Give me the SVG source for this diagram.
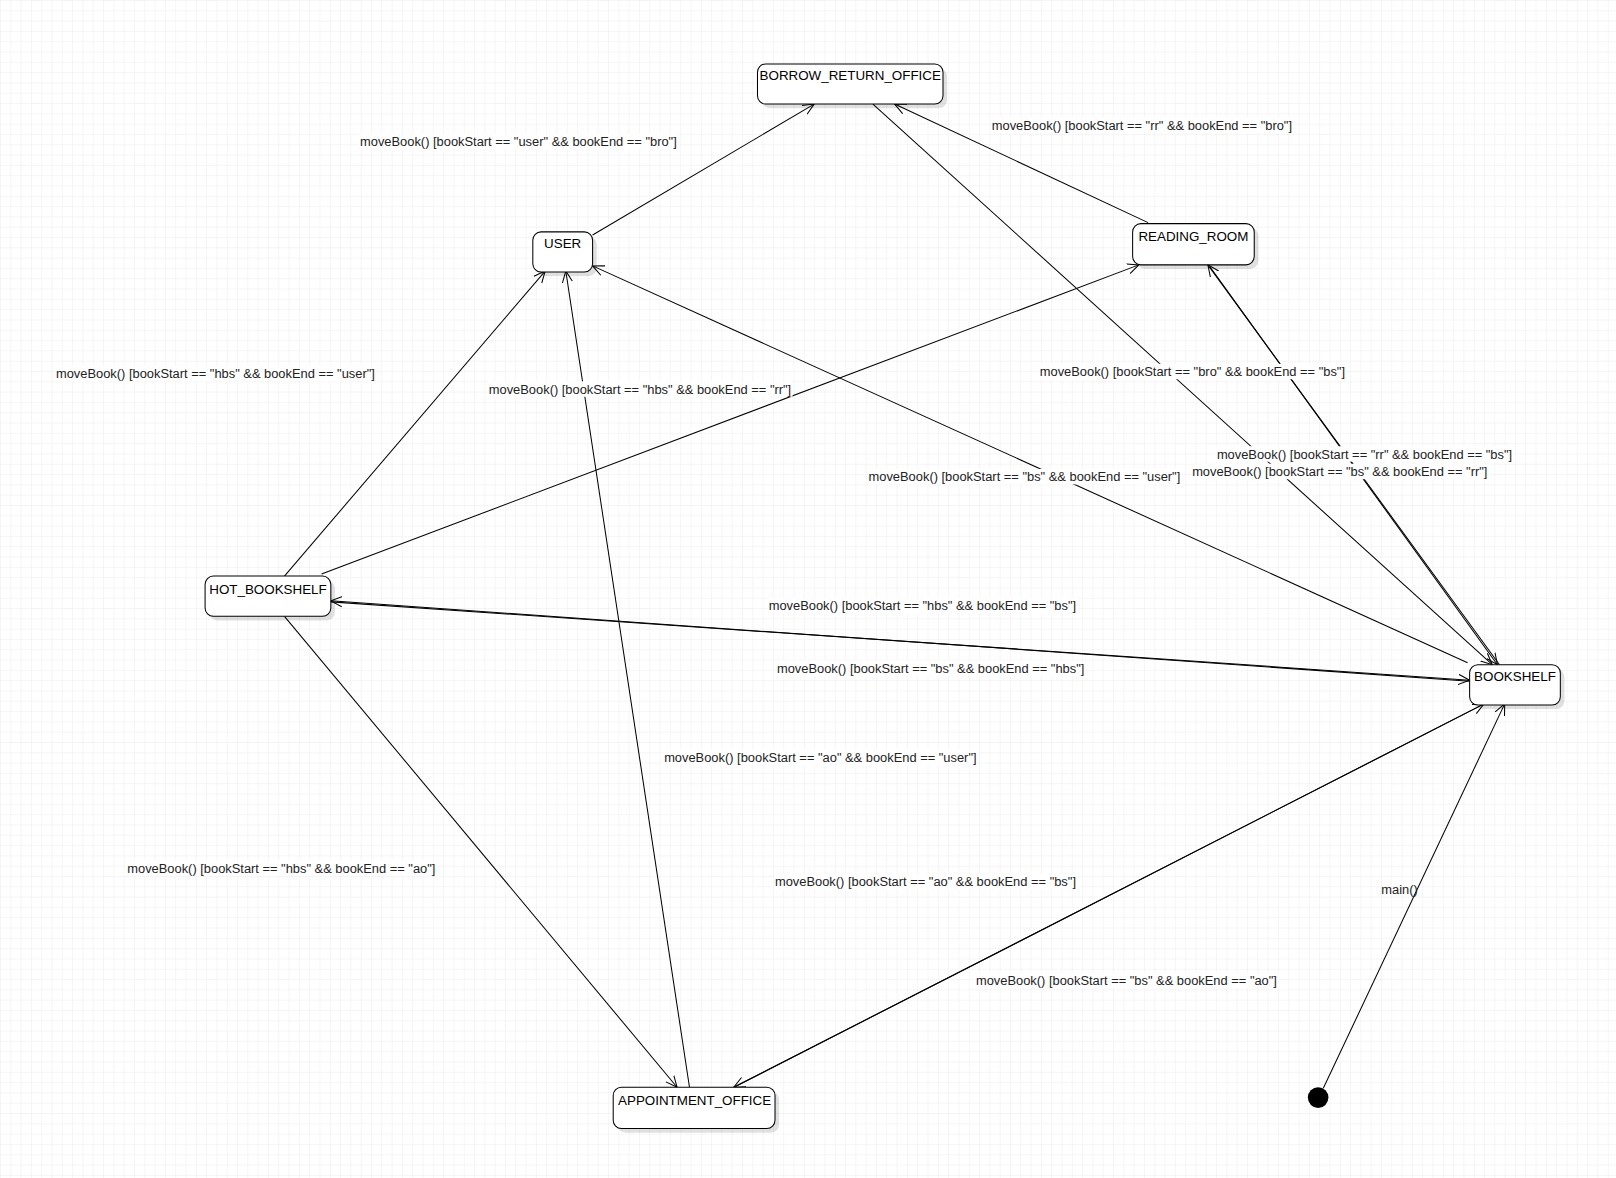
<svg xmlns="http://www.w3.org/2000/svg" width="1616" height="1178" viewBox="0 0 1616 1178">
<style>
.n rect.b{fill:#fff;stroke:#000;stroke-width:1}
.n rect.s{fill:#000;opacity:0.12}
.n text{font-family:"Liberation Sans",Arial,sans-serif;font-size:13px;fill:#000;text-anchor:middle}
.e line{stroke:#000;stroke-width:1;fill:none;marker-end:url(#a)}
.l text{font-family:"Liberation Sans",Arial,sans-serif;font-size:12.5px;fill:#222;text-anchor:middle}
.l rect{fill:#fff}
</style>
<defs>
<pattern id="g" width="10" height="10" patternUnits="userSpaceOnUse"><path d="M10 0H0V10" fill="none" stroke="#ececec" stroke-width="1"/></pattern>
<marker id="a" viewBox="0 0 12 12" refX="11" refY="6" markerWidth="12" markerHeight="12" markerUnits="userSpaceOnUse" orient="auto"><path d="M0 1L11 6L0 11" fill="none" stroke="#000" stroke-width="1"/></marker>
</defs>
<rect width="1616" height="1178" fill="#fff"/>
<g transform="scale(1.0306)">
<rect width="1568" height="1143" fill="url(#g)"/>
<g id="connectors" class="e">
<line x1="575" y1="228" x2="790" y2="101"/>
<line x1="1114" y1="216" x2="868" y2="101"/>
<line x1="847" y1="101" x2="1448" y2="645"/>
<line x1="276" y1="559" x2="529" y2="263"/>
<line x1="312" y1="557" x2="1105" y2="257"/>
<line x1="1424" y1="643" x2="575" y2="258"/>
<line x1="1455" y1="645" x2="1172" y2="257"/>
<line x1="1174" y1="259" x2="1453" y2="645"/>
<line x1="1426" y1="661" x2="321" y2="583"/>
<line x1="321" y1="584" x2="1426" y2="660"/>
<line x1="669" y1="1055" x2="549" y2="263"/>
<line x1="276" y1="598" x2="657" y2="1055"/>
<line x1="712" y1="1055" x2="1440" y2="683"/>
<line x1="1440" y1="683" x2="712" y2="1055"/>
<line x1="1284" y1="1056" x2="1460" y2="683"/>
</g>
<g id="labels" class="l">
<rect x="348" y="130" width="310" height="15"/><text x="503" y="142">moveBook() [bookStart == "user" &amp;&amp; bookEnd == "bro"]</text>
<rect x="962" y="114" width="293" height="15"/><text x="1108" y="126">moveBook() [bookStart == "rr" &amp;&amp; bookEnd == "bro"]</text>
<rect x="53" y="355" width="312" height="15"/><text x="209" y="367">moveBook() [bookStart == "hbs" &amp;&amp; bookEnd == "user"]</text>
<rect x="473" y="370" width="296" height="15"/><text x="621" y="382">moveBook() [bookStart == "hbs" &amp;&amp; bookEnd == "rr"]</text>
<rect x="1008" y="353" width="298" height="15"/><text x="1157" y="365">moveBook() [bookStart == "bro" &amp;&amp; bookEnd == "bs"]</text>
<rect x="842" y="455" width="304" height="15"/><text x="994" y="467">moveBook() [bookStart == "bs" &amp;&amp; bookEnd == "user"]</text>
<rect x="1180" y="433" width="289" height="15"/><text x="1324" y="445">moveBook() [bookStart == "rr" &amp;&amp; bookEnd == "bs"]</text>
<rect x="1158" y="450" width="287" height="15"/><text x="1300" y="462">moveBook() [bookStart == "bs" &amp;&amp; bookEnd == "rr"]</text>
<rect x="745" y="580" width="301" height="15"/><text x="895" y="592">moveBook() [bookStart == "hbs" &amp;&amp; bookEnd == "bs"]</text>
<rect x="753" y="641" width="300" height="15"/><text x="903" y="653">moveBook() [bookStart == "bs" &amp;&amp; bookEnd == "hbs"]</text>
<rect x="643" y="727" width="306" height="15"/><text x="796" y="739">moveBook() [bookStart == "ao" &amp;&amp; bookEnd == "user"]</text>
<rect x="122" y="835" width="302" height="15"/><text x="273" y="847">moveBook() [bookStart == "hbs" &amp;&amp; bookEnd == "ao"]</text>
<rect x="751" y="848" width="295" height="15"/><text x="898" y="860">moveBook() [bookStart == "ao" &amp;&amp; bookEnd == "bs"]</text>
<rect x="946" y="944" width="295" height="15"/><text x="1093" y="956">moveBook() [bookStart == "bs" &amp;&amp; bookEnd == "ao"]</text>
<text x="1358" y="867">main()</text>
</g>
<g id="BORROW_RETURN_OFFICE" class="n"><rect class="s" x="739" y="66" width="180" height="39" rx="8"/><rect class="b" x="735" y="62" width="180" height="39" rx="8"/><text x="825" y="78">BORROW_RETURN_OFFICE</text></g>
<g id="USER" class="n"><rect class="s" x="521" y="229" width="58" height="39" rx="8"/><rect class="b" x="517" y="225" width="58" height="39" rx="8"/><text x="546" y="241">USER</text></g>
<g id="READING_ROOM" class="n"><rect class="s" x="1103" y="221" width="118" height="40" rx="8"/><rect class="b" x="1099" y="217" width="118" height="40" rx="8"/><text x="1158" y="234">READING_ROOM</text></g>
<g id="HOT_BOOKSHELF" class="n"><rect class="s" x="203" y="563" width="122" height="39" rx="8"/><rect class="b" x="199" y="559" width="122" height="39" rx="8"/><text x="260" y="576">HOT_BOOKSHELF</text></g>
<g id="BOOKSHELF" class="n"><rect class="s" x="1430" y="649" width="88" height="39" rx="8"/><rect class="b" x="1426" y="645" width="88" height="39" rx="8"/><text x="1470" y="661">BOOKSHELF</text></g>
<g id="APPOINTMENT_OFFICE" class="n"><rect class="s" x="599" y="1059" width="157" height="40" rx="8"/><rect class="b" x="595" y="1055" width="157" height="40" rx="8"/><text x="674" y="1072">APPOINTMENT_OFFICE</text></g>
<g id="initial"><circle cx="1279" cy="1065" r="10" fill="#000"/></g>
</g>
</svg>
